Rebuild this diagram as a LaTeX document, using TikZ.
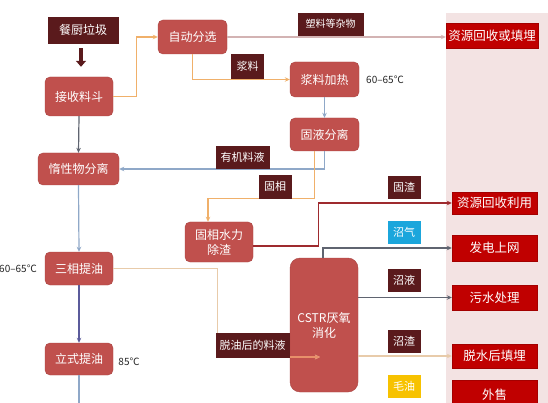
\documentclass[tikz,border=0pt]{standalone}
\usepackage{fontspec}
\newfontfamily\cjk{Noto Sans CJK SC}
\usepackage{tikz}
\usetikzlibrary{
  arrows.meta,
  positioning,
  calc
}
\definecolor{fwBox}{HTML}{C0504D}
\definecolor{fwBoxLine}{HTML}{A94442}
\definecolor{fwTag}{HTML}{5A1A1C}
\definecolor{fwOut}{HTML}{C00000}
\definecolor{fwPanel}{HTML}{F3E3E3}
\definecolor{fwOrange}{HTML}{F0B06A}
\definecolor{fwSteel}{HTML}{8FA8C8}
\definecolor{fwGrey}{HTML}{5F6470}
\definecolor{fwWine}{HTML}{9E2A2E}
\definecolor{fwPlum}{HTML}{5B5B9B}
\definecolor{fwRose}{HTML}{D3B3B3}
\definecolor{fwSand}{HTML}{E8CBAA}
\definecolor{fwCoral}{HTML}{E8906A}
\definecolor{fwSky}{HTML}{1BA6DC}
\definecolor{fwGold}{HTML}{F7C200}
\tikzset{
  fwnode/.style={
    draw, text=white, align=center, inner sep=1pt
  },
  stage/.style={fwnode, fill=fwBox, draw=fwBoxLine, rounded corners=5pt,
    minimum width=68pt, font=\cjk\fontsize{12}{15}\selectfont},
  tagbox/.style={fwnode, fill=fwTag, draw=fwTag, minimum width=32pt,
    minimum height=22pt, font=\cjk\fontsize{11}{13}\selectfont},
  outbox/.style={fwnode, fill=fwOut, draw=fwOut!85!black, minimum width=85pt,
    font=\cjk\fontsize{12.5}{14}\selectfont},
  temp/.style={font=\cjk\fontsize{10}{12}\selectfont, text=black!85, inner sep=0pt},
  link/.style={-{Stealth[length=5pt, width=4.5pt]}, line width=1.2pt},
  bigarrow/.style={-{Triangle[length=6pt, width=10pt]}, line width=4pt, fwTag}
}

\begin{document}
\begin{tikzpicture}[x=1pt, y=-1pt]
  \useasboundingbox (0,0) rectangle (548,403);
  \clip (0,0) rectangle (548,403);
  \fill[white] (0,0) rectangle (548,403);
  \fill[fwPanel] (446,13) rectangle (548,403);

  \node[tagbox, minimum width=70pt, minimum height=26pt, font=\cjk\fontsize{12}{14}\selectfont] (waste) at (83,30) {餐厨垃圾};
  \node[stage, minimum height=39pt] (hopper) at (79,96.5) {接收料斗};
  \node[stage, minimum width=69pt, minimum height=34pt] (sort) at (192.5,37) {自动分选};
  \node[stage, minimum width=69pt, minimum height=35pt] (heat) at (324.5,79.5) {浆料加热};
  \node[stage, minimum width=69pt, minimum height=33pt] (sep) at (324.5,134.5) {固液分离};
  \node[stage, minimum width=81pt, minimum height=32pt] (inert) at (78.5,169) {惰性物分离};
  \node[stage, minimum height=40pt] (wash) at (219,242) {固相水力\\除渣};
  \node[stage, minimum height=33pt] (tri) at (79,268.5) {三相提油};
  \node[stage, minimum height=32pt] (vert) at (79,359) {立式提油};
  \node[stage, minimum height=134pt, rounded corners=10pt] (cstr) at (324,325) {CSTR厌氧\\消化};

  \node[outbox, minimum width=92pt, minimum height=25pt] (out1) at (492,36) {资源回收或填埋};
  \node[outbox, minimum height=22pt] (out2) at (494.5,203) {资源回收利用};
  \node[outbox, minimum height=26pt] (out3) at (494.5,248) {发电上网};
  \node[outbox, minimum height=25pt] (out4) at (494.5,297.5) {污水处理};
  \node[outbox, minimum height=24pt] (out5) at (494.5,356) {脱水后填埋};
  \node[outbox, minimum height=30pt] (out6) at (494.5,395) {外售};

  \node[temp] (t1) at (385,80) {60–65℃};
  \node[temp] (t2) at (18,269) {60–65℃};
  \node[temp] (t3) at (129,362) {85℃};

  \coordinate (feedin) at (320,357);
  \coordinate (bottomend) at (79,410);

  \draw[bigarrow, shorten <=5pt, shorten >=10pt] (waste.south -| 81,0) -- (hopper.north -| 81,0);
  \draw[link, fwOrange] (hopper.east) -- ++(23,0) |- (sort.west);
  \draw[link, fwRose] (sort.east) -- (sort.east -| out1.west);
  \draw[link, fwOrange] (sort.south) |- (heat.west);
  \draw[link, fwSteel] (heat.south) -- (sep.north);
  \draw[link, fwSteel] (sep.south) |- (inert.east);
  \draw[link, fwOrange] ([xshift=-10pt]sep.south) -- ++(0,47) -| ([xshift=-11pt]wash.north);
  \draw[link, fwWine] ([yshift=-4pt]wash.east) -- ++(65,0) |- (out2.west);
  \draw[link, fwGrey] (hopper.south) -- (inert.north);
  \draw[link, fwSteel] (inert.south) -- (tri.north);
  \draw[link, fwPlum] (tri.south) -- (vert.north);
  \draw[line width=1.2pt, fwSteel] (vert.south) -- (bottomend);
  \draw[link, fwSand] (tri.east) -- ++(104,0) |- (feedin);
  \draw[link, fwGrey] ([xshift=-1pt]cstr.north) |- (out3.west);
  \draw[link, fwGrey] (cstr.east |- out4.west) -- (out4.west);
  \draw[link, fwSand] (cstr.east |- out5.west) -- (out5.west);
  \draw[link, fwCoral] (feedin -| cstr.west) -- (feedin);

  \node[tagbox, minimum width=65pt, font=\cjk\fontsize{10}{12}\selectfont] (plastic) at (330.5,24) {塑料等杂物};
  \node[tagbox, minimum height=24pt] (slurry) at (247.5,66) {浆料};
  \node[tagbox, minimum width=53pt] (liquor) at (242.5,157.5) {有机料液};
  \node[tagbox, minimum height=23pt] (solid) at (275,186.5) {固相};
  \node[tagbox] (residue) at (404,187) {固渣};
  \node[tagbox, fill=fwSky, draw=fwSky] (biogas) at (404,232) {沼气};
  \node[tagbox] (digest) at (404,280.5) {沼液};
  \node[tagbox] (sludge) at (404,341.5) {沼渣};
  \node[tagbox, fill=fwGold, draw=fwGold] (oil) at (404,386) {毛油};
  \node[tagbox, minimum width=73pt, minimum height=24pt] (deoil) at (252.5,345) {脱油后的料液};
\end{tikzpicture}
\end{document}
